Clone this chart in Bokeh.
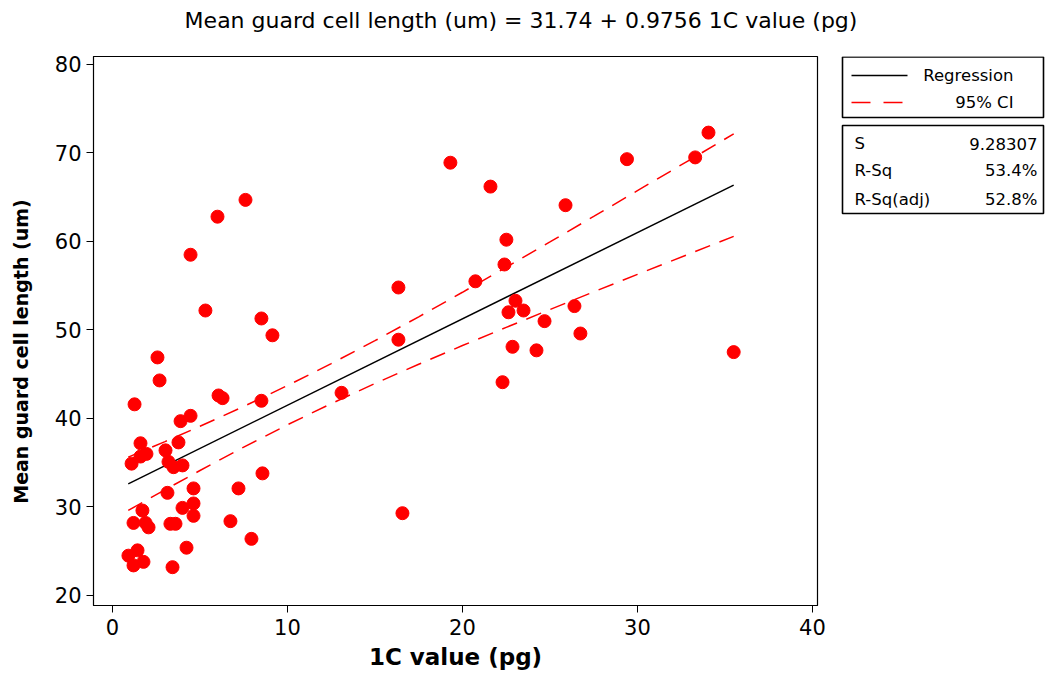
import math
from bokeh.plotting import figure
from bokeh.layouts import column, row
from bokeh.models import Range1d, FixedTicker
from bokeh.core.properties import value
from bokeh.embed import file_html
from bokeh.resources import INLINE

# ---- data ----
c_value = [0.91, 1.43, 1.77, 1.2, 3.43, 4.23, 1.2, 1.89, 2.06, 1.71, 3.31, 3.6, 3.14, 4.63, 4.63, 4.0,
           4.63, 1.09, 1.6, 1.94, 1.6, 3.03, 3.2, 3.49, 4.0, 3.77, 3.89, 4.46, 1.26, 2.69, 2.57, 4.46,
           5.31, 6.0, 7.6, 6.06, 6.29, 6.74, 7.2, 7.94, 8.51, 8.57, 8.51, 9.14,
           13.09, 16.34, 16.34, 16.57, 19.31, 20.74, 21.6, 22.29, 22.4, 22.51, 22.63, 22.86, 23.03,
           23.49, 24.23, 24.69, 25.89, 26.4, 26.74, 29.4, 33.3, 34.06, 35.5]
guard_len = [24.5, 25.1, 23.8, 23.4, 23.2, 25.4, 28.2, 28.2, 27.7, 29.6, 28.1, 28.1, 31.6, 32.1, 30.4, 29.9,
             29.0, 34.9, 37.2, 36.0, 35.7, 36.4, 35.1, 34.5, 34.7, 37.3, 39.7, 40.3, 41.6, 44.3, 46.9, 58.5,
             52.2, 62.8, 64.7, 42.6, 42.3, 28.4, 32.1, 26.4, 42.0, 33.8, 51.3, 49.4,
             42.9, 54.8, 48.9, 29.3, 68.9, 55.5, 66.2, 44.1, 57.4, 60.2, 52.0, 48.1, 53.3,
             52.2, 47.7, 51.0, 64.1, 52.7, 49.6, 69.3, 69.5, 72.3, 47.5]

intercept = 31.74
slope = 0.9756
fit_x = [0.9, 35.5]

ci_x = [0.9, 3, 5, 7.5, 10, 12.5, 15, 17.5, 20, 22.5, 25, 27.5, 30, 33, 35.5]
ci_upper = [35.63, 37.39, 39.12, 41.36, 43.72, 46.20, 48.79, 51.49, 54.26, 57.09, 59.95, 62.83, 65.74, 69.23, 72.16]
ci_lower = [29.61, 31.95, 34.12, 36.76, 39.29, 41.68, 43.95, 46.13, 48.24, 50.29, 52.31, 54.31, 56.28, 58.63, 60.58]

x_ticks = [0, 10, 20, 30, 40]
y_ticks = [20, 30, 40, 50, 60, 70, 80]

title_text = "Mean guard cell length (um) =  31.74 + 0.9756 1C value (pg)"
x_label = "1C value (pg)"
y_label = "Mean guard cell length (um)"
legend_labels = ["Regression", "95% CI"]
stat_names = ["S", "R-Sq", "R-Sq(adj)"]
stat_values = ["9.28307", "53.4%", "52.8%"]

FONT = "DejaVu Sans"
TOP, BOTTOM = 12, 70          # plot borders shared by the row (frames are aligned)
FRAME_H = 549
H = TOP + FRAME_H + BOTTOM


def bare(fig):
    fig.grid.visible = False
    fig.outline_line_color = None
    return fig


# ---- title strip ----
t = bare(figure(width=1045, height=44, x_range=Range1d(0, 1045), y_range=Range1d(44, 0),
                output_backend="svg", toolbar_location=None, min_border=0,
                x_axis_location=None, y_axis_location=None))
t.text(x=[524], y=[20], text=[title_text], text_align="center", text_baseline="middle",
       text_font=value(FONT), text_font_size="22px", text_color="black")

# ---- y-axis label strip (frame spans the same height as the main frame) ----
yl = bare(figure(width=40, height=H, x_range=Range1d(0, 40), y_range=Range1d(0, FRAME_H),
                 output_backend="svg", toolbar_location=None, min_border=0,
                 min_border_top=TOP, min_border_bottom=BOTTOM,
                 x_axis_location=None, y_axis_location=None))
yl.text(x=[20], y=[254], text=[y_label], angle=math.pi / 2, text_align="center",
        text_baseline="middle", text_font=value(FONT), text_font_size="19px",
        text_font_style="bold", text_color="black")

# ---- main plot ----
p = figure(width=789, height=H, x_range=Range1d(-1.086, 40.29), y_range=Range1d(18.87, 80.9),
           output_backend="svg", toolbar_location=None,
           min_border_left=53, min_border_right=12, min_border_top=TOP, min_border_bottom=BOTTOM)
p.grid.visible = False
p.outline_line_color = "black"
p.outline_line_width = 1.2

fit_y = [intercept + slope * v for v in fit_x]
p.line(ci_x, ci_upper, line_color="red", line_width=1.5, line_dash="16 10")
p.line(ci_x, ci_lower, line_color="red", line_width=1.5, line_dash="16 10")
p.line(fit_x, fit_y, line_color="black", line_width=1.5)
p.scatter(c_value, guard_len, size=13, marker="circle", fill_color="red", line_color="red")

for ax in (p.xaxis[0], p.yaxis[0]):
    ax.major_tick_out = 7
    ax.major_tick_in = 0
    ax.minor_tick_line_color = None
    ax.axis_line_color = "black"
    ax.major_tick_line_color = "black"
    ax.major_label_text_font = FONT
    ax.major_label_text_font_size = "21px"
    ax.major_label_text_color = "black"
    ax.axis_label_text_font = FONT
    ax.axis_label_text_font_size = "23px"
    ax.axis_label_text_font_style = "bold"
    ax.axis_label_text_color = "black"
p.xaxis[0].ticker = FixedTicker(ticks=x_ticks)
p.yaxis[0].ticker = FixedTicker(ticks=y_ticks)
p.xaxis[0].axis_label = x_label
p.xaxis[0].major_label_standoff = 6
p.xaxis[0].axis_label_standoff = 6

# ---- side legend (y data = pixels from figure top) ----
s = bare(figure(width=216, height=H, x_range=Range1d(0, 216), y_range=Range1d(TOP + FRAME_H, TOP),
                output_backend="svg", toolbar_location=None, min_border=0,
                min_border_top=TOP, min_border_bottom=BOTTOM,
                x_axis_location=None, y_axis_location=None))
s.quad(left=[13, 13], right=[214, 214], top=[12.5, 81], bottom=[73, 169],
       fill_color="white", line_color="black", line_width=1.6)
s.line([22, 78], [31, 31], line_color="black", line_width=1.5)
s.line([22, 78], [58, 58], line_color="red", line_width=1.5, line_dash="19 13")
s.text(x=[184, 184], y=[31, 58], text=legend_labels, text_align="right", text_baseline="middle",
       text_font=value(FONT), text_font_size="16.5px", text_color="black")
s.text(x=[25, 25, 25], y=[99, 126, 155], text=stat_names, text_align="left", text_baseline="middle",
       text_font=value(FONT), text_font_size="16.5px", text_color="black")
s.text(x=[208, 208, 208], y=[99, 126, 155], text=stat_values, text_align="right", text_baseline="middle",
       text_font=value(FONT), text_font_size="16.5px", text_color="black")

layout = column(t, row(yl, p, s))
open("out.html", "w").write(file_html(layout, INLINE))
